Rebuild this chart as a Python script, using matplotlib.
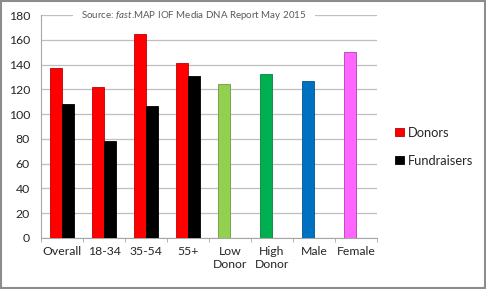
import numpy as np
import matplotlib
matplotlib.use("Agg")
import matplotlib.pyplot as plt
from matplotlib.patches import Rectangle

# Data
categories = ["Overall", "18-34", "35-54", "55+", "Low\nDonor", "High\nDonor", "Male", "Female"]
donors = [137.5, 121.5, 164.5, 141, 124.5, 132, 126.5, 150]
fundraisers = [108, 78, 106.5, 131, np.nan, np.nan, np.nan, np.nan]
donor_colors = ["#FF0000", "#FF0000", "#FF0000", "#FF0000", "#92D050", "#00B050", "#0070C0", "#FF66FF"]
donor_edges = ["#C00000", "#C00000", "#C00000", "#C00000", "#6E9A3C", "#00843C", "#005490", "#B040B0"]
y_ticks = list(range(0, 181, 20))

plt.rcParams["font.family"] = ["Lato", "DejaVu Sans"]
plt.rcParams["mathtext.fontset"] = "custom"
plt.rcParams["mathtext.rm"] = "Lato"
plt.rcParams["mathtext.it"] = "Lato:italic"

fig = plt.figure(figsize=(4.86, 2.89), dpi=100)
ax = fig.add_axes([0.0844, 0.1765, 0.6913, 0.7715])

x = np.arange(len(categories))
w = 0.29
ax.bar(x - w / 2, donors, width=w, color=donor_colors, edgecolor=donor_edges,
       linewidth=0.6, label="Donors", zorder=3)
ax.bar(x + w / 2, fundraisers, width=w, color="#000000", edgecolor="#000000",
       linewidth=0.6, label="Fundraisers", zorder=3)

ax.set_xlim(-0.5, len(categories) - 0.5)
ax.set_ylim(0, 180)
ax.set_yticks(y_ticks)
ax.yaxis.grid(True, color="#BFBFBF", linewidth=0.9, zorder=0)
ax.set_axisbelow(True)

ax.set_xticks(x)
ax.set_xticklabels(categories, fontsize=8.8, color="#262626", linespacing=1.15)
ax.set_xticks(np.arange(-0.5, len(categories)), minor=True)
ax.tick_params(axis="x", which="major", length=0, pad=6)
ax.tick_params(axis="x", which="minor", length=3, color="#A6A6A6")
ax.tick_params(axis="y", length=0, labelsize=8.8, labelcolor="#262626", pad=8)

for s in ["top", "right"]:
    ax.spines[s].set_visible(False)
ax.spines["left"].set_color("#A6A6A6")
ax.spines["bottom"].set_color("#A6A6A6")

ax.text(0.455, 1.0, "Source: $\\mathit{fast}$.MAP IOF Media DNA Report May 2015",
        transform=ax.transAxes, ha="center", va="center", fontsize=7,
        color="#595959", zorder=5,
        bbox=dict(facecolor="white", edgecolor="none", pad=6))

ax.legend(loc="center left", bbox_to_anchor=(1.02, 0.41), frameon=False,
          fontsize=9.3, handlelength=0.65, handleheight=0.65, handletextpad=0.3,
          labelspacing=1.25, labelcolor="#262626")

# grey border around whole picture
fig.patches.append(Rectangle((0.002, 0.003), 0.995, 0.993, transform=fig.transFigure,
                             fill=False, edgecolor="#8C8C8C", linewidth=1.5))

fig.savefig("out.png", dpi=100)
